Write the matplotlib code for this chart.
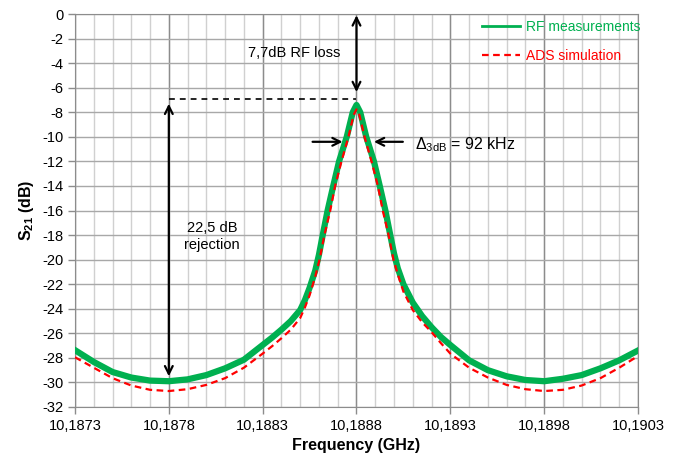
import numpy as np
import matplotlib
matplotlib.use("Agg")
import matplotlib.pyplot as plt

plt.rcParams['font.family'] = ['Liberation Sans', 'DejaVu Sans']
plt.rcParams['axes.unicode_minus'] = False
plt.rcParams['mathtext.fontset'] = 'custom'
plt.rcParams['mathtext.rm'] = 'Liberation Sans'
plt.rcParams['mathtext.bf'] = 'Liberation Sans:bold'
plt.rcParams['mathtext.it'] = 'Liberation Sans:italic'

# measured S21 (GHz, dB)
f_meas = [10.1873, 10.1874, 10.1875, 10.1876, 10.1877, 10.1878, 10.1879, 10.1880,
          10.1881, 10.1882, 10.1883, 10.18835, 10.1884, 10.18845, 10.1885, 10.188525,
          10.18855, 10.18858, 10.1886, 10.18862, 10.188646, 10.188676, 10.188707,
          10.188748, 10.18878, 10.1888, 10.18882, 10.188852, 10.188893, 10.188924,
          10.188954, 10.18898, 10.1890, 10.18902, 10.18905, 10.1891, 10.18915, 10.1892,
          10.18925, 10.1893, 10.1894, 10.1895, 10.1896, 10.1897, 10.1898, 10.1899,
          10.1900, 10.1901, 10.1902, 10.1903]
s21_meas = [-27.37, -28.33, -29.15, -29.6, -29.85, -29.9, -29.75, -29.4,
            -28.85, -28.15, -26.95, -26.35, -25.7, -25.0, -24.1, -23.3,
            -22.3, -20.9, -19.6, -18.0, -16.0, -14.0, -12.0,
            -10.0, -8.0, -7.4, -8.0, -10.0, -12.0, -14.0,
            -16.0, -18.0, -19.5, -20.7, -22.0, -23.5, -24.6, -25.5,
            -26.3, -26.95, -28.2, -29.0, -29.5, -29.8, -29.9, -29.7,
            -29.4, -28.85, -28.2, -27.4]

# ADS simulation
f_sim = [10.1873, 10.1874, 10.1875, 10.1876, 10.1877, 10.1878, 10.1879, 10.1880,
         10.1881, 10.1882, 10.1883, 10.18835, 10.1884, 10.18845, 10.1885, 10.188525,
         10.18855, 10.18858, 10.188603, 10.188629, 10.18866, 10.188686, 10.18872,
         10.188757, 10.188785, 10.1888, 10.188815, 10.188843, 10.18888, 10.188914,
         10.18894, 10.188971, 10.188997, 10.18902, 10.18905, 10.1891, 10.18915, 10.1892,
         10.18925, 10.1893, 10.1894, 10.1895, 10.1896, 10.1897, 10.1898, 10.1899,
         10.1900, 10.1901, 10.1902, 10.1903]
s21_sim = [-27.95, -28.8, -29.65, -30.25, -30.6, -30.7, -30.55, -30.2,
           -29.65, -28.8, -27.65, -27.05, -26.4, -25.7, -24.75, -23.9,
           -22.9, -21.4, -20.0, -18.0, -16.0, -14.0, -12.0,
           -10.0, -8.2, -7.76, -8.2, -10.0, -12.0, -14.0,
           -16.0, -18.0, -20.0, -21.2, -22.6, -24.1, -25.1, -25.9,
           -26.8, -27.65, -28.8, -29.6, -30.2, -30.55, -30.7, -30.6,
           -30.25, -29.65, -28.8, -27.85]

xticks = [10.1873, 10.1878, 10.1883, 10.1888, 10.1893, 10.1898, 10.1903]
xticklabels = ["10,1873", "10,1878", "10,1883", "10,1888", "10,1893", "10,1898", "10,1903"]
xminor = np.round(np.arange(10.1873, 10.19031, 0.0001), 4)
yticks = list(range(0, -33, -2))

fig = plt.figure(figsize=(6.78, 4.55), dpi=100)
ax = fig.add_axes([0.1106, 0.1055, 0.8304, 0.8635])

ax.set_xlim(10.1873, 10.1903)
ax.set_ylim(-32, 0)

# grid
for x in xminor:
    ax.axvline(x, color='#d0d0d0', lw=1.0, zorder=0)
for x in xticks:
    ax.axvline(x, color='#8c8c8c', lw=1.0, zorder=0.5)
for y in yticks:
    ax.axhline(y, color='#a8a8a8', lw=1.0, zorder=0.5)

ax.plot(f_meas, s21_meas, color='#00b050', lw=4.5, label='RF measurements', zorder=3,
        solid_joinstyle='round')
ax.plot(f_sim, s21_sim, color='#ff0000', lw=1.6, ls=(0, (3, 2)), label='ADS simulation', zorder=4)

ax.set_xticks(xticks)
ax.set_xticklabels(xticklabels)
ax.set_yticks(yticks)
ax.set_yticklabels([str(v) for v in yticks])
ax.tick_params(axis='both', labelsize=10.5, length=5, color='#8c8c8c', width=1)
for s in ax.spines.values():
    s.set_color('#8c8c8c')

ax.set_xlabel('Frequency (GHz)', fontsize=11.5, fontweight='bold', labelpad=4)
ax.set_ylabel(r'$\mathbf{S_{21}}$ (dB)', fontsize=11.5, fontweight='bold', labelpad=4)

leg = ax.legend(loc='upper left', bbox_to_anchor=(0.723, 0.985), frameon=False,
                fontsize=10, handlelength=2.7, handletextpad=0.45, labelspacing=1.05,
                borderpad=0, borderaxespad=0)
leg.get_lines()[0].set_linewidth(2)
for txt, c in zip(leg.get_texts(), ['#00b050', '#ff0000']):
    txt.set_color(c)

# annotations
ax.plot([10.1878, 10.1888], [-6.9, -6.9], color='k', lw=1.2, ls=(0, (3.5, 3)), zorder=5)
arrow = dict(arrowstyle='<->', lw=1.6, color='k', shrinkA=0, shrinkB=0, mutation_scale=14)
ax.annotate('', xy=(10.1878, -7.3), xytext=(10.1878, -29.5), arrowprops=arrow, zorder=6)
ax.annotate('', xy=(10.1888, -0.1), xytext=(10.1888, -6.35), arrowprops=arrow, zorder=6)
one = dict(arrowstyle='->', lw=1.6, color='k', shrinkA=0, shrinkB=0, mutation_scale=14)
ax.annotate('', xy=(10.188726, -10.4), xytext=(10.188566, -10.4), arrowprops=one)
ax.annotate('', xy=(10.188893, -10.4), xytext=(10.189047, -10.4), arrowprops=one)

ax.text(10.188467, -3.2, '7,7dB RF loss', fontsize=10.5, ha='center', va='center')
ax.text(10.18803, -18.1, '22,5 dB\nrejection', fontsize=10.5, ha='center', va='center',
        linespacing=1.3)
ax.text(10.189111, -10.67, r'$\Delta_{\mathrm{3dB}}$ = 92 kHz', fontsize=11.5,
        ha='left', va='center')

fig.savefig('out.png', dpi=100)
